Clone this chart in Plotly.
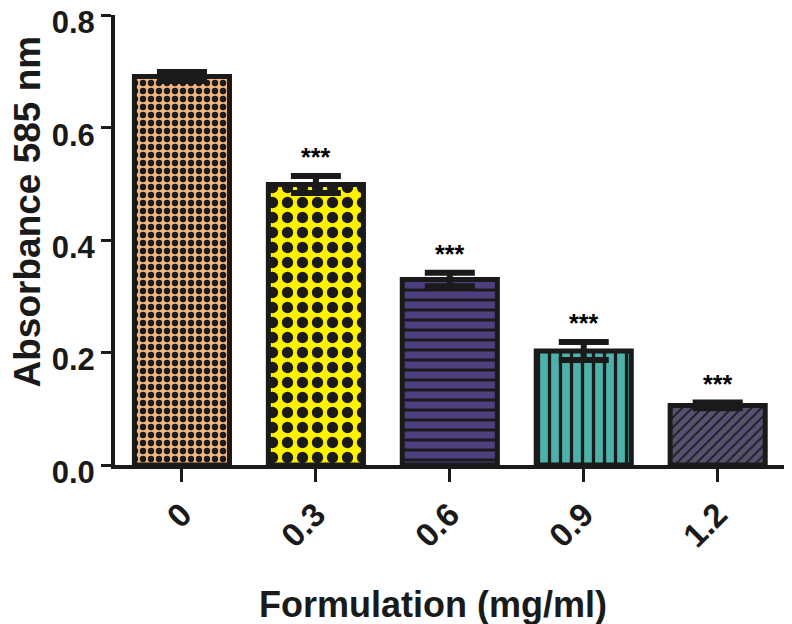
import plotly.graph_objects as go

categories = ["0", "0.3", "0.6", "0.9", "1.2"]
values = [0.691, 0.499, 0.330, 0.203, 0.106]
errors = [0.008, 0.015, 0.012, 0.016, 0.005]
stars = ["", "***", "***", "***", "***"]
fill_colors = ["#F2B680", "#FFF200", "#4E3F80", "#4DB3AA", "#585070"]
pattern_shapes = [".", ".", "-", "|", "/"]
pattern_sizes = [8, 15, 10, 11, 7]
pattern_solid = [0.5, 0.45, 0.3, 0.3, 0.25]

fig = go.Figure()
for i, c in enumerate(categories):
    fig.add_trace(go.Bar(
        x=[c], y=[values[i]],
        width=0.71,
        marker=dict(
            color=fill_colors[i],
            line=dict(color="#1a1a1a", width=5),
            pattern=dict(shape=pattern_shapes[i], fgcolor="#1a1a1a", fgopacity=1,
                         bgcolor=fill_colors[i], size=pattern_sizes[i],
                         solidity=pattern_solid[i], fillmode="overlay"),
        ),
        error_y=dict(type="data", array=[errors[i]], color="#1a1a1a",
                     thickness=6, width=25, visible=True),
        showlegend=False,
    ))
    if stars[i]:
        fig.add_annotation(x=i, y=values[i] + errors[i], text="<b>" + stars[i] + "</b>",
                           xref="x", yref="y",
                           showarrow=False, yanchor="bottom", yshift=3,
                           font=dict(size=25, color="black", family="Arial"))

# axis titles as annotations (placed off-centre like the reference)
fig.add_annotation(text="<b>Absorbance 585 nm</b>", xref="paper", yref="paper",
                   x=-0.130, y=0.564, xanchor="center", yanchor="middle",
                   textangle=-90, showarrow=False,
                   font=dict(size=37, color="#1a1a1a", family="Arial"))
fig.add_annotation(text="<b>Formulation (mg/ml)</b>", xref="paper", yref="paper",
                   x=0.471, y=-0.309, xanchor="center", yanchor="middle",
                   showarrow=False,
                   font=dict(size=36, color="#1a1a1a", family="Arial"))

fig.update_layout(
    width=792, height=624,
    margin=dict(l=107, r=10, t=7, b=167, autoexpand=False),
    plot_bgcolor="white", paper_bgcolor="white",
    font=dict(family="Arial", color="#1a1a1a"),
)
fig.update_xaxes(
    type="category",
    range=[-0.5, 4.54], showline=True, linecolor="#1a1a1a", linewidth=4,
    ticks="outside", ticklen=13, tickwidth=3, tickcolor="#1a1a1a",
    tickvals=categories, ticktext=["<b>" + c + "</b>" for c in categories],
    tickangle=-45, tickfont=dict(size=33, color="#1a1a1a"),
    showgrid=False, zeroline=False, automargin=False,
)
fig.update_yaxes(
    range=[0, 0.8005], tickvals=[0, 0.2, 0.4, 0.6, 0.8],
    ticktext=["<b>0.0</b>", "<b>0.2</b>", "<b>0.4</b>", "<b>0.6</b>", "<b>0.8</b>"],
    showline=True, linecolor="#1a1a1a", linewidth=4,
    ticks="outside", ticklen=10, tickwidth=3, tickcolor="#1a1a1a",
    tickfont=dict(size=31, color="#1a1a1a"), ticklabeloverflow="allow",
    ticklabelshift=7,
    showgrid=False, zeroline=False, automargin=False,
)

fig.write_html("out.html")
